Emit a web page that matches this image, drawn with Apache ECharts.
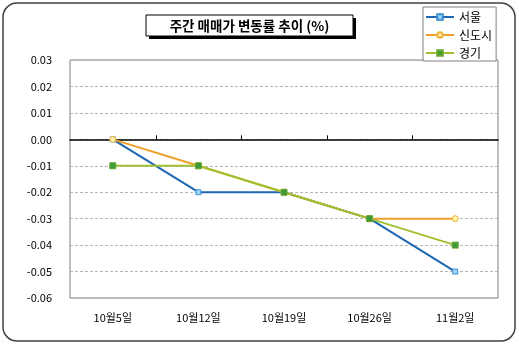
<!DOCTYPE html>
<html>
<head>
<meta charset="utf-8">
<script src="https://cdn.jsdelivr.net/npm/echarts@6/dist/echarts.min.js"></script>
<style>
  html, body { margin: 0; padding: 0; background: #fff; }
  #chart { width: 519px; height: 345px; }
</style>
</head>
<body>
<div id="chart"></div>
<script>
// Weekly sale-price change rate (%)
const categories = ['10월5일', '10월12일', '10월19일', '10월26일', '11월2일'];
const seoul = [0.00, -0.02, -0.02, -0.03, -0.05];
const newTowns = [0.00, -0.01, -0.02, -0.03, -0.03];
const gyeonggi = [-0.01, -0.01, -0.02, -0.03, -0.04];
const titleText = '주간 매매가 변동률 추이 (%)';

const FONT = '"Noto Sans CJK KR", "Noto Sans", sans-serif';
const chart = echarts.init(document.getElementById('chart'), null, { renderer: 'canvas' });

// short upward ticks on the zero baseline, one at each boundary between categories
function renderZeroTick(params, api) {
  const idx = api.value(0);
  const p = api.coord([idx, 0]);
  const band = api.size([1, 0])[0];
  const x = Math.round(p[0] + band / 2) + 0.5;
  return {
    type: 'line',
    shape: { x1: x, y1: p[1], x2: x, y2: p[1] - 4 },
    style: { stroke: '#000', lineWidth: 1 }
  };
}

chart.setOption({
  animation: false,
  backgroundColor: '#ffffff',
  textStyle: { fontFamily: FONT },
  grid: {
    left: 70, right: 21, top: 60, bottom: 47,
    outerBoundsMode: 'none',
    show: true, borderColor: '#808080', borderWidth: 1, backgroundColor: 'transparent'
  },
  legend: {
    orient: 'vertical',
    left: 423, top: 7,
    padding: [4, 4, 2, 2],
    itemWidth: 28, itemHeight: 7, itemGap: 6,
    backgroundColor: '#ffffff',
    borderColor: '#808080', borderWidth: 1, borderRadius: 0,
    textStyle: { fontFamily: FONT, fontSize: 12, color: '#000' },
    data: ['서울', '신도시', '경기']
  },
  xAxis: [
    {
      // category labels along the bottom of the plot
      type: 'category', data: categories, boundaryGap: true,
      position: 'bottom',
      axisLine: { show: false, onZero: false },
      axisTick: { show: false },
      axisLabel: { fontFamily: FONT, fontSize: 11, color: '#000', margin: 14 },
      splitLine: { show: false }
    },
    {
      // zero baseline
      type: 'category', data: categories, boundaryGap: true,
      position: 'top',
      axisLine: { show: true, onZero: true, lineStyle: { color: '#000', width: 1.5 } },
      axisTick: { show: false },
      axisLabel: { show: false },
      splitLine: { show: false }
    }
  ],
  yAxis: {
    type: 'value', min: -0.06, max: 0.03, interval: 0.01,
    axisLine: { show: false },
    axisTick: { show: false },
    axisLabel: {
      fontFamily: FONT, fontSize: 11, color: '#000', margin: 18,
      formatter: v => v.toFixed(2)
    },
    splitLine: { show: true, lineStyle: { color: '#b4b4b4', type: [3, 2], width: 1 } }
  },
  series: [
    {
      name: 'zeroTicks', type: 'custom', silent: true,
      xAxisIndex: 0,
      data: categories.slice(0, categories.length - 1).map((c, i) => [i, 0]),
      renderItem: renderZeroTick,
      z: 1
    },
    {
      name: '서울', type: 'line', data: seoul,
      color: '#1f66b3',
      lineStyle: { color: '#1f66b3', width: 2 },
      symbol: 'rect', symbolSize: 5,
      itemStyle: { color: '#9fd8f5', borderColor: '#3a8fd0', borderWidth: 1 },
      z: 2
    },
    {
      name: '신도시', type: 'line', data: newTowns,
      color: '#f0a028',
      lineStyle: { color: '#f0a028', width: 2 },
      symbol: 'circle', symbolSize: 6,
      itemStyle: { color: '#fff2a8', borderColor: '#f0b040', borderWidth: 1 },
      z: 3
    },
    {
      name: '경기', type: 'line', data: gyeonggi,
      color: '#a0c030',
      lineStyle: { color: '#a0c030', width: 2 },
      symbol: 'rect', symbolSize: 6,
      itemStyle: { color: '#3f9a3a', borderColor: '#6aa830', borderWidth: 1 },
      z: 4
    }
  ],
  graphic: [
    {
      type: 'rect', z: -10, silent: true,
      shape: { x: 3, y: 3, width: 512, height: 338, r: 14 },
      style: { fill: 'none', stroke: '#404040', lineWidth: 1.5 }
    },
    {
      type: 'group', z: 100,
      children: [
        {
          type: 'rect',
          shape: { x: 149, y: 18, width: 207, height: 21 },
          style: { fill: '#000' }
        },
        {
          type: 'rect',
          shape: { x: 146, y: 15, width: 207, height: 21 },
          style: { fill: '#fff', stroke: '#000', lineWidth: 1 }
        },
        {
          type: 'text',
          x: 249.5, y: 25.5,
          style: {
            text: titleText, fontFamily: FONT, fontSize: 13.5, fontWeight: 'bold',
            fill: '#000', align: 'center', verticalAlign: 'middle'
          }
        }
      ]
    }
  ]
});
</script>
</body>
</html>
